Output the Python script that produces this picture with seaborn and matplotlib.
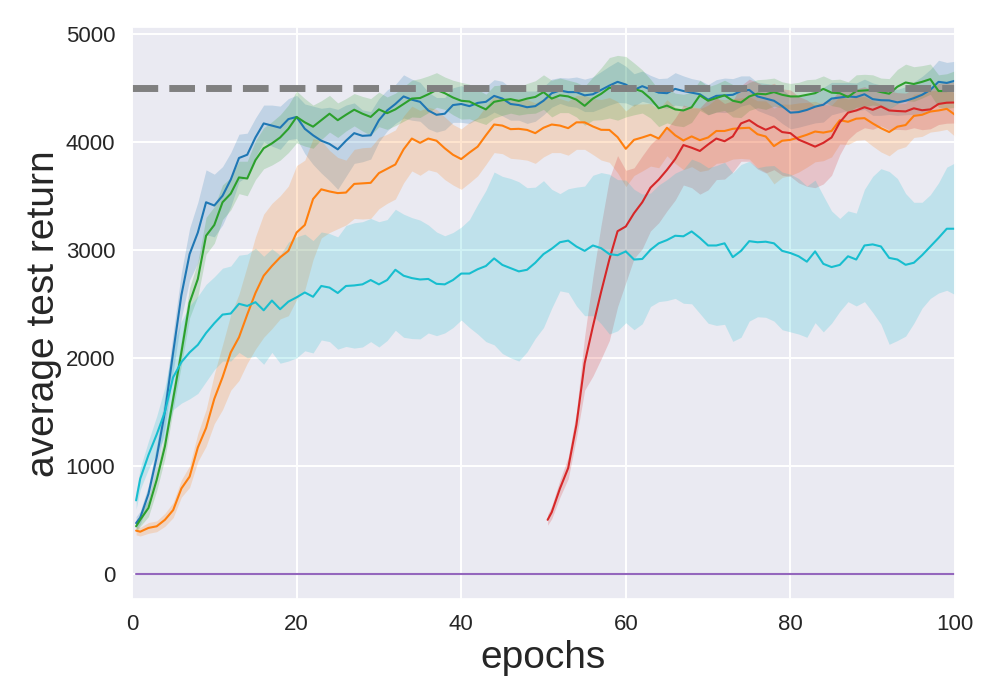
import numpy as np
import matplotlib.pyplot as plt
import seaborn as sns

# x grid: first logged point at half an epoch, then one per epoch
epochs = np.r_[0.5, np.arange(1, 101)]
red_epochs = np.r_[50.5, np.arange(51, 101)]

blue = [470, 520, 740, 1080, 1500, 2050, 2580, 2960, 3160, 3440,
        3410, 3500, 3650, 3850, 3880, 4040, 4170, 4150, 4130, 4210,
        4230, 4120, 4060, 4010, 3980, 3930, 4010, 4080, 4055, 4060,
        4200, 4290, 4350, 4420, 4390, 4370, 4290, 4250, 4260, 4340,
        4350, 4330, 4360, 4370, 4425, 4400, 4350, 4340, 4320, 4330,
        4380, 4450, 4475, 4460, 4460, 4430, 4440, 4480, 4520, 4555,
        4530, 4480, 4515, 4485, 4455, 4450, 4490, 4470, 4455, 4440,
        4390, 4425, 4430, 4435, 4470, 4480, 4420, 4400, 4380, 4330,
        4270, 4275, 4295, 4325, 4343, 4400, 4410, 4420, 4414, 4440,
        4395, 4385, 4383, 4365, 4380, 4404, 4435, 4480, 4555, 4545,
        4565]
blue_sd = [60, 60, 80, 110, 150, 180, 210, 240, 280, 300,
           290, 270, 250, 220, 200, 180, 170, 190, 200, 190,
           200, 230, 270, 300, 340, 370, 330, 280, 240, 220,
           200, 190, 180, 200, 190, 180, 170, 160, 150, 160,
           170, 160, 150, 140, 150, 160, 150, 140, 150, 140,
           130, 130, 120, 130, 140, 150, 160, 170, 180, 190,
           170, 150, 140, 130, 130, 140, 150, 140, 130, 130,
           140, 150, 160, 150, 140, 130, 130, 140, 150, 160,
           150, 140, 140, 150, 160, 150, 140, 130, 130, 140,
           150, 140, 130, 120, 130, 150, 170, 190, 200, 190,
           180]

green = [440, 500, 610, 870, 1180, 1620, 2050, 2510, 2730, 3130,
         3230, 3440, 3520, 3670, 3660, 3830, 3940, 3985, 4040, 4120,
         4230, 4180, 4140, 4200, 4260, 4200, 4250, 4297, 4260, 4230,
         4300, 4265, 4300, 4350, 4400, 4405, 4440, 4480, 4450, 4410,
         4380, 4373, 4335, 4300, 4370, 4385, 4395, 4378, 4400, 4415,
         4460, 4400, 4430, 4420, 4390, 4333, 4400, 4444, 4500, 4500,
         4510, 4490, 4466, 4400, 4310, 4335, 4300, 4290, 4320, 4430,
         4380, 4405, 4430, 4380, 4364, 4420, 4445, 4440, 4460, 4435,
         4420, 4420, 4435, 4450, 4490, 4455, 4450, 4415, 4470, 4475,
         4480, 4460, 4445, 4510, 4549, 4535, 4555, 4580, 4470, 4470,
         4488]
green_sd = [50, 60, 80, 100, 110, 100, 120, 140, 160, 170,
            170, 160, 150, 150, 160, 180, 190, 200, 210, 220,
            240, 220, 200, 180, 170, 160, 150, 150, 160, 170,
            160, 150, 150, 160, 170, 180, 170, 160, 150, 160,
            170, 160, 150, 140, 150, 140, 130, 130, 140, 150,
            160, 170, 160, 150, 160, 180, 200, 240, 280, 300,
            280, 240, 200, 180, 170, 160, 150, 150, 140, 140,
            130, 130, 140, 150, 140, 130, 130, 140, 130, 120,
            120, 130, 140, 130, 120, 120, 130, 140, 150, 150,
            140, 130, 140, 160, 170, 160, 150, 140, 150, 160,
            170]

orange = [400, 390, 425, 440, 500, 590, 790, 900, 1170, 1350,
          1620, 1820, 2050, 2190, 2400, 2600, 2760, 2850, 2930, 2990,
          3160, 3230, 3470, 3560, 3540, 3525, 3530, 3610, 3615, 3620,
          3710, 3750, 3790, 3930, 4030, 3990, 4030, 4010, 3940, 3880,
          3840, 3900, 3955, 4060, 4160, 4150, 4117, 4120, 4110, 4080,
          4130, 4160, 4150, 4126, 4180, 4180, 4142, 4111, 4110, 4043,
          3935, 4018, 4040, 4065, 4030, 4130, 4060, 4012, 4050, 4015,
          4040, 4100, 4100, 4120, 4126, 4130, 4070, 4049, 3960, 4010,
          4018, 4040, 4065, 4095, 4085, 4100, 4200, 4185, 4214, 4219,
          4170, 4126, 4090, 4140, 4155, 4240, 4250, 4280, 4290, 4305,
          4250]
orange_sd = [40, 40, 50, 50, 60, 70, 80, 100, 130, 170,
             230, 300, 350, 400, 450, 520, 570, 580, 570, 600,
             620, 600, 560, 450, 380, 330, 300, 320, 330, 330,
             330, 320, 320, 310, 300, 300, 290, 290, 290, 280,
             280, 280, 270, 270, 260, 260, 270, 280, 280, 280,
             270, 260, 250, 250, 250, 250, 260, 280, 300, 330,
             350, 330, 310, 290, 270, 260, 260, 270, 280, 290,
             300, 300, 290, 280, 280, 290, 310, 330, 350, 340,
             330, 320, 300, 280, 260, 240, 220, 210, 200, 200,
             210, 220, 220, 210, 200, 200, 200, 190, 190, 190,
             200]

cyan = [680, 880, 1100, 1290, 1500, 1820, 1960, 2050, 2120, 2230,
        2320, 2400, 2410, 2500, 2480, 2515, 2440, 2530, 2450, 2520,
        2560, 2605, 2565, 2665, 2650, 2600, 2665, 2670, 2680, 2720,
        2680, 2720, 2815, 2760, 2738, 2725, 2730, 2685, 2680, 2720,
        2780, 2780, 2820, 2850, 2920, 2860, 2830, 2800, 2815, 2880,
        2960, 3010, 3070, 3085, 3030, 2990, 3040, 3015, 2960, 2950,
        2985, 2910, 2915, 3000, 3060, 3090, 3130, 3125, 3170, 3110,
        3040, 3040, 3060, 2932, 2990, 3080, 3070, 3075, 3060, 2990,
        2970, 2940, 2890, 2985, 2870, 2840, 2860, 2940, 2910, 3040,
        3050, 3031, 2925, 2910, 2861, 2880, 2950, 3030, 3110, 3195,
        3195]
cyan_sd = [80, 100, 130, 170, 230, 300, 380, 430, 450, 450,
           430, 430, 440, 450, 480, 500, 500, 480, 500, 550,
           560, 540, 520, 500, 500, 520, 560, 580, 580, 570,
           580, 560, 560, 570, 560, 550, 500, 480, 450, 440,
           430, 500, 600, 700, 800, 820, 830, 830, 760, 700,
           680, 550, 450, 480, 550, 600, 650, 700, 740, 700,
           660, 650, 600, 525, 540, 560, 580, 620, 670, 700,
           720, 740, 750, 780, 800, 740, 690, 700, 720, 730,
           730, 720, 700, 660, 630, 520, 430, 420, 430, 520,
           630, 720, 800, 750, 660, 560, 490, 480, 510, 570,
           610]

red = [500, 570, 790, 980, 1380, 1950, 2290, 2610, 2910, 3172,
       3216, 3339, 3440, 3575, 3650, 3740, 3840, 3970, 3945, 3915,
       3975, 4030, 4005, 4050, 4170, 4200, 4148, 4111, 4142, 4090,
       4080, 4020, 3988, 3955, 3990, 4040, 4180, 4270, 4290, 4320,
       4296, 4327, 4290, 4285, 4281, 4310, 4292, 4300, 4350, 4362,
       4364]
red_sd = [50, 60, 80, 100, 120, 250, 460, 620, 750, 700,
          520, 420, 430, 400, 400, 380, 380, 370, 370, 400,
          420, 380, 350, 330, 350, 380, 400, 400, 400, 400,
          400, 400, 400, 380, 380, 350, 300, 250, 200, 190,
          180, 180, 180, 170, 170, 180, 180, 180, 190, 190,
          190]

purple = [0] * 101
reference_return = 4500

sns.set_theme(style="darkgrid")
plt.rcParams['font.family'] = ['Liberation Sans', 'DejaVu Sans']

fig, ax = plt.subplots(figsize=(10, 7), dpi=100)
fig.subplots_adjust(left=0.132, right=0.955, top=0.961, bottom=0.144)


def draw(x, mean, sd, color):
    mean = np.asarray(mean, dtype=float)
    sd = np.asarray(sd, dtype=float)
    sns.lineplot(x=x, y=mean, color=color, linewidth=1.5, ax=ax)
    ax.fill_between(x, mean - sd, mean + sd, color=color, alpha=0.2, linewidth=0)


draw(epochs, blue, blue_sd, 'tab:blue')
draw(epochs, orange, orange_sd, 'tab:orange')
draw(epochs, green, green_sd, 'tab:green')
draw(red_epochs, red, red_sd, 'tab:red')
sns.lineplot(x=epochs, y=purple, color='tab:purple', linewidth=1.5, ax=ax)
draw(epochs, cyan, cyan_sd, 'tab:cyan')
ax.axhline(reference_return, color='gray', linestyle='--', linewidth=5)

ax.set_xlim(0, 100)
ax.set_ylim(-235, 5060)
ax.set_xticks(range(0, 101, 20))
ax.set_yticks(range(0, 5001, 1000))
ax.tick_params(axis='x', labelsize=16, pad=5)
ax.tick_params(axis='y', labelsize=16, pad=6)
ax.grid(linewidth=1.4)
ax.set_xlabel('epochs', fontsize=28, labelpad=3)
ax.set_ylabel('average test return', fontsize=28, labelpad=3)

fig.savefig('out.png', dpi=100)
